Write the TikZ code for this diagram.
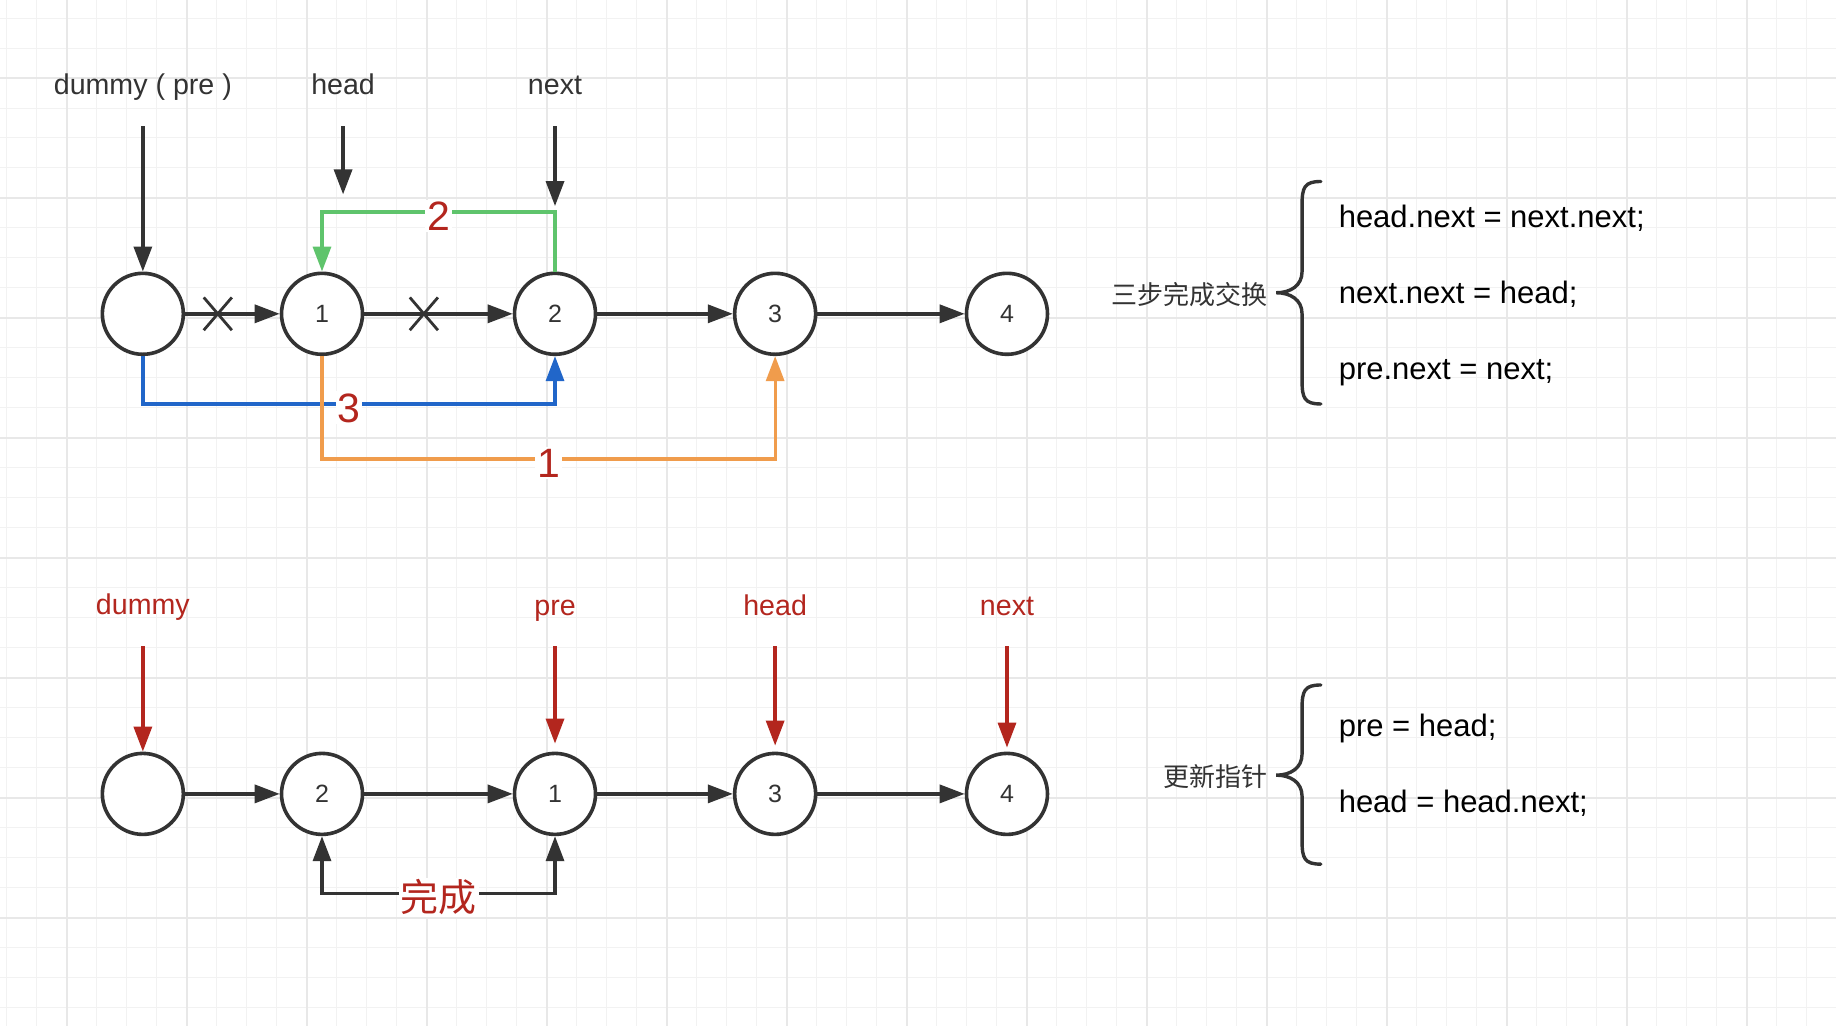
\documentclass[tikz,border=0pt]{standalone}
\usepackage{fontspec}
\setmainfont{Liberation Sans}
\newfontfamily\cjk{Noto Sans CJK SC}
\usetikzlibrary{arrows.meta}
\definecolor{ink}{HTML}{333333}
\definecolor{gr}{HTML}{5FC46C}
\definecolor{bl}{HTML}{2166C9}
\definecolor{og}{HTML}{F09C4C}
\definecolor{rd}{HTML}{B3261E}
\definecolor{gminor}{HTML}{F2F2F2}
\definecolor{gmajor}{HTML}{E8E8E8}
\begin{document}
\begin{tikzpicture}[x=0.5855pt, y=-0.5855pt,
  tip/.style={-{Triangle[length=12.5pt,width=9pt]}},
  ln/.style={line width=1.7pt, draw=ink},
  nd/.style={circle, draw=ink, line width=1.8pt, fill=white, minimum size=40.5pt, inner sep=0pt, text=ink, font=\fontsize{12.5}{14}\selectfont},
  lbl/.style={anchor=base, text=ink, font=\fontsize{14.3}{17}\selectfont, inner sep=0pt},
  rlbl/.style={anchor=base, text=rd, font=\fontsize{14.3}{17}\selectfont, inner sep=0pt},
  code/.style={anchor=base west, text=black, font=\fontsize{15.5}{18}\selectfont, inner sep=0pt},
  zh/.style={anchor=east, text=ink, font=\cjk\fontsize{13}{16}\selectfont, inner sep=0pt},
  numlbl/.style={fill=white, text=rd, font=\fontsize{20.5}{24}\selectfont, inner sep=1pt, yshift=-2pt},
  cline/.style={line width=1.65pt},
  brace/.style={draw=ink, line width=1.7pt, line cap=round}
]
\fill[white] (0,0) rectangle (1568,876);
\path[use as bounding box] (0,0) rectangle (1568,876);
% grid
\begin{scope}[x=0.5pt,y=-0.5pt]
\foreach \i in {0,...,61} \draw[gminor, line width=0.5pt] ({7+30*\i},0) -- ++(0,1026);
\foreach \j in {0,...,34} \draw[gminor, line width=0.5pt] (0,{18+30*\j}) -- ++(1836,0);
\foreach \i in {0,...,14} \draw[gmajor, line width=0.9pt] ({67+120*\i},0) -- ++(0,1026);
\foreach \j in {0,...,7} \draw[gmajor, line width=0.9pt] (0,{78+120*\j}) -- ++(1836,0);
\end{scope}

% ---------- top row ----------
\node[nd] (a0) at (122,268) {};
\node[nd] (a1) at (275,268) {1};
\node[nd] (a2) at (474,268) {2};
\node[nd] (a3) at (662,268) {3};
\node[nd] (a4) at (860,268) {4};

\node[lbl] (ldummy) at (122,81) {dummy ( pre )};
\node[lbl] (lhead) at (293,81) {head};
\node[lbl] (lnext) at (474,81) {next};
\coordinate (sd) at (122,108);
\coordinate (sh) at (293,108);
\coordinate (eh) at (293,166);
\coordinate (sn) at (474,108);
\coordinate (en) at (474,176);
\draw[ln,tip] (sd) -- (a0.north);
\draw[ln,tip] (sh) -- (eh);
\draw[ln,tip] (sn) -- (en);

\draw[ln,tip] (a0) -- (a1);
\draw[ln,tip] (a1) -- (a2);
\draw[ln,tip] (a2) -- (a3);
\draw[ln,tip] (a3) -- (a4);
% crosses
\draw[ink, line width=1.4pt] (174,254) -- (198,282) (198,254) -- (174,282);
\draw[ink, line width=1.4pt] (350,254) -- (374,282) (374,254) -- (350,282);

% colored steps
\draw[gr, cline, tip] (a2.north) -- (474,181) -- node[numlbl] {2} (275,181) -- (a1.north);
\draw[bl, cline, tip] (a0.south) -- (122,345) -- node[numlbl] {3} (474,345) -- (a2.south);
\draw[og, cline, tip] (a1.south) -- (275,392) -- node[numlbl] {1} (662,392) -- (a3.south);

% right brace 1
\draw[brace] (1128,155) .. controls (1114,155) and (1112,160) .. (1112,175) -- (1112,232) .. controls (1112,244) and (1102,250) .. (1090,250) .. controls (1102,250) and (1112,256) .. (1112,268) -- (1112,325) .. controls (1112,340) and (1114,345) .. (1128,345);
\node[zh] (t1) at (1083,252) {三步完成交换};
\node[code] (c1) at (1143,194) {head.next = next.next;};
\node[code] (c2) at (1143,259) {next.next = head;};
\node[code] (c3) at (1143,324) {pre.next = next;};

% ---------- bottom row ----------
\node[nd] (b0) at (122,678) {};
\node[nd] (b2) at (275,678) {2};
\node[nd] (b1) at (474,678) {1};
\node[nd] (b3) at (662,678) {3};
\node[nd] (b4) at (860,678) {4};

\node[rlbl] (rdummy) at (122,525) {dummy};
\node[rlbl] (rpre) at (474,526) {pre};
\node[rlbl] (rhead) at (662,526) {head};
\node[rlbl] (rnext) at (860,526) {next};
\coordinate (qd) at (122,552);
\coordinate (qp) at (474,552);
\coordinate (qh) at (662,552);
\coordinate (qn) at (860,552);
\draw[rd, line width=1.7pt, tip] (qd) -- (b0.north);
\draw[rd, line width=1.7pt, tip, shorten >=4pt] (qp) -- (b1.north);
\draw[rd, line width=1.7pt, tip, shorten >=3pt] (qh) -- (b3.north);
\draw[rd, line width=1.7pt, tip, shorten >=2pt] (qn) -- (b4.north);

\draw[ln,tip] (b0) -- (b2);
\draw[ln,tip] (b2) -- (b1);
\draw[ln,tip] (b1) -- (b3);
\draw[ln,tip] (b3) -- (b4);

\draw[ln, {Triangle[length=12.5pt,width=9pt]}-{Triangle[length=12.5pt,width=9pt]}] (b2.south) -- (275,763) -- node[fill=white, text=rd, font=\cjk\fontsize{19}{22}\selectfont, inner sep=1pt, yshift=-2pt] {完成} (474,763) -- (b1.south);

% right brace 2
\draw[brace] (1128,585) .. controls (1114,585) and (1112,590) .. (1112,605) -- (1112,644) .. controls (1112,656) and (1102,662) .. (1090,662) .. controls (1102,662) and (1112,668) .. (1112,680) -- (1112,718) .. controls (1112,733) and (1114,738) .. (1128,738);
\node[zh] (t2) at (1083,663) {更新指针};
\node[code] (d1) at (1143,629) {pre = head;};
\node[code] (d2) at (1143,694) {head = head.next;};
\end{tikzpicture}
\end{document}
